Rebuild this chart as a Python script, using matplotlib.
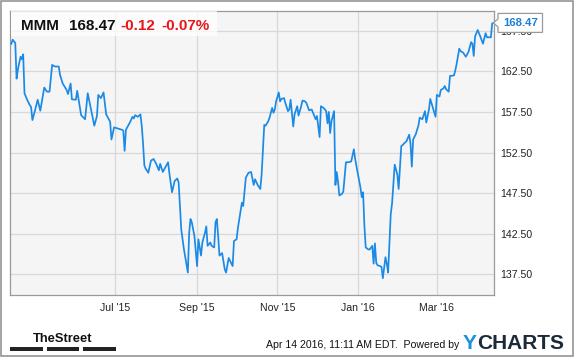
import matplotlib
matplotlib.use("Agg")
import matplotlib.pyplot as plt
from matplotlib.patches import Rectangle, Polygon
import pandas as pd

# MMM price over one year
dates = [
    "2015-04-13", "2015-04-14", "2015-04-16", "2015-04-17", "2015-04-18", "2015-04-20", "2015-04-21",
    "2015-04-22", "2015-04-23", "2015-04-25", "2015-04-27", "2015-04-28", "2015-04-29",
    "2015-05-01", "2015-05-03", "2015-05-05", "2015-05-08", "2015-05-10", "2015-05-12", "2015-05-14",
    "2015-05-16", "2015-05-19", "2015-05-20", "2015-05-22", "2015-05-25", "2015-05-26", "2015-05-28",
    "2015-05-29",
    "2015-06-01", "2015-06-02", "2015-06-05", "2015-06-08", "2015-06-10", "2015-06-13", "2015-06-15",
    "2015-06-17", "2015-06-18", "2015-06-20", "2015-06-22", "2015-06-24", "2015-06-27", "2015-06-28",
    "2015-06-30",
    "2015-07-02", "2015-07-06", "2015-07-07", "2015-07-08", "2015-07-09", "2015-07-12", "2015-07-14",
    "2015-07-15", "2015-07-16", "2015-07-18", "2015-07-20", "2015-07-21", "2015-07-22", "2015-07-23",
    "2015-07-24", "2015-07-26", "2015-07-28", "2015-07-30",
    "2015-08-01", "2015-08-03", "2015-08-04", "2015-08-06", "2015-08-08", "2015-08-10", "2015-08-11",
    "2015-08-13", "2015-08-15", "2015-08-17", "2015-08-18", "2015-08-19", "2015-08-20", "2015-08-22",
    "2015-08-25", "2015-08-26", "2015-08-27", "2015-08-28", "2015-08-30",
    "2015-09-01", "2015-09-02", "2015-09-04", "2015-09-05", "2015-09-07", "2015-09-08", "2015-09-09",
    "2015-09-11", "2015-09-12", "2015-09-14", "2015-09-15", "2015-09-16", "2015-09-17", "2015-09-18",
    "2015-09-20", "2015-09-22", "2015-09-23", "2015-09-25", "2015-09-28", "2015-09-29",
    "2015-10-01", "2015-10-02", "2015-10-05", "2015-10-06", "2015-10-08", "2015-10-10", "2015-10-12",
    "2015-10-14", "2015-10-15", "2015-10-17", "2015-10-19", "2015-10-20", "2015-10-22", "2015-10-23",
    "2015-10-25", "2015-10-26", "2015-10-28", "2015-10-29", "2015-10-30", "2015-10-31",
    "2015-11-02", "2015-11-03", "2015-11-04", "2015-11-06", "2015-11-07", "2015-11-09", "2015-11-10",
    "2015-11-11", "2015-11-13", "2015-11-14", "2015-11-16", "2015-11-17", "2015-11-19", "2015-11-20",
    "2015-11-22", "2015-11-23", "2015-11-25", "2015-11-27", "2015-11-28", "2015-11-30",
    "2015-12-01", "2015-12-03", "2015-12-04", "2015-12-06", "2015-12-08", "2015-12-09", "2015-12-10",
    "2015-12-11", "2015-12-12", "2015-12-14", "2015-12-15", "2015-12-16", "2015-12-17", "2015-12-18",
    "2015-12-20", "2015-12-21", "2015-12-23", "2015-12-25", "2015-12-27", "2015-12-29", "2015-12-30",
    "2016-01-01", "2016-01-03", "2016-01-04", "2016-01-05", "2016-01-06", "2016-01-07", "2016-01-09",
    "2016-01-10", "2016-01-12", "2016-01-13", "2016-01-14", "2016-01-15", "2016-01-16", "2016-01-18",
    "2016-01-19", "2016-01-20", "2016-01-22", "2016-01-23", "2016-01-24", "2016-01-26", "2016-01-27",
    "2016-01-29", "2016-01-31",
    "2016-02-01", "2016-02-03", "2016-02-04", "2016-02-05", "2016-02-07", "2016-02-09", "2016-02-10",
    "2016-02-11", "2016-02-12", "2016-02-14", "2016-02-15", "2016-02-16", "2016-02-17", "2016-02-19",
    "2016-02-20", "2016-02-21", "2016-02-22", "2016-02-24", "2016-02-25", "2016-02-27", "2016-02-29",
    "2016-03-01", "2016-03-03", "2016-03-04", "2016-03-06", "2016-03-07", "2016-03-08", "2016-03-10",
    "2016-03-11", "2016-03-12", "2016-03-14", "2016-03-15", "2016-03-16", "2016-03-18", "2016-03-19",
    "2016-03-21", "2016-03-23", "2016-03-25", "2016-03-27", "2016-03-28", "2016-03-29", "2016-03-30",
    "2016-04-01", "2016-04-03", "2016-04-05", "2016-04-07", "2016-04-08", "2016-04-11", "2016-04-12",
    "2016-04-13",
]
prices = [
    165.9, 166.4, 166.0, 161.6, 162.75, 164.3, 164.0, 164.6, 159.8, 159.0, 158.35, 158.1, 156.5,
    157.7, 159.0, 157.65, 160.5, 160.0, 160.0, 163.3, 163.1, 163.1, 162.05, 161.0, 160.2, 159.7,
    161.0, 159.05,
    159.0, 160.1, 157.1, 156.6, 159.8, 157.4, 155.8, 157.0, 159.6, 159.2, 159.9, 157.2, 156.3,
    154.1, 155.6,
    155.5, 155.3, 155.2, 152.7, 155.3, 156.2, 156.9, 156.7, 157.1, 156.9, 157.2, 155.8, 153.6,
    150.9, 150.5, 150.0, 151.5, 151.7,
    151.1, 150.3, 151.1, 150.1, 150.7, 151.3, 149.9, 147.6, 149.0, 149.3, 148.8, 145.9, 143.0,
    140.6, 137.7, 142.6, 144.3, 143.9, 142.2,
    138.5, 141.8, 139.8, 141.4, 142.6, 143.4, 141.0, 141.4, 141.0, 140.8, 143.9, 144.3, 142.2,
    139.8, 140.1, 138.1, 137.7, 139.5, 138.5, 141.6,
    141.8, 143.2, 146.3, 145.9, 149.4, 150.0, 150.1, 148.5, 149.2, 148.5, 148.0, 149.8, 155.9,
    155.8, 156.35, 156.8, 158.0, 157.4, 157.8, 158.8,
    159.9, 158.8, 159.1, 159.2, 158.6, 157.6, 157.8, 159.0, 155.7, 157.2, 158.2, 157.05, 158.2,
    158.9, 158.8, 158.6, 157.7, 157.8, 157.4, 156.6,
    157.0, 154.4, 158.2, 158.0, 157.6, 156.1, 157.5, 154.9, 156.35, 157.6, 148.5, 150.1, 148.9,
    147.2, 147.4, 147.7, 151.3, 151.3, 151.4, 152.9, 151.7,
    149.9, 148.2, 147.0, 147.6, 143.5, 140.8, 140.55, 140.55, 141.0, 138.8, 141.3, 138.9, 138.6,
    138.5, 138.4, 137.0, 139.6, 138.8, 137.7, 144.9, 146.2, 151.0, 149.8,
    148.0, 153.3, 153.4, 153.6, 153.9, 154.7, 153.6, 150.75, 154.1, 154.75, 155.3, 155.8, 156.8,
    156.6, 157.1, 157.6, 156.2, 157.8, 159.1, 158.0, 156.9,
    159.6, 159.4, 160.2, 160.4, 160.7, 160.3, 160.0, 161.95, 161.95, 162.0, 162.6, 163.4, 165.3,
    165.0, 164.8, 164.3, 164.9, 166.1, 165.9, 164.4, 166.8,
    167.6, 166.8, 165.9, 167.2, 166.7, 166.7, 168.4, 168.47,
]

tick_dates = ["2015-07-01", "2015-09-01", "2015-11-01", "2016-01-01", "2016-03-01"]
tick_labels = ["Jul '15", "Sep '15", "Nov '15", "Jan '16", "Mar '16"]
y_ticks = [137.5, 142.5, 147.5, 152.5, 157.5, 162.5, 167.5]

ticker = "MMM"
last_price = "168.47"
change = "-0.12"
change_pct = "-0.07%"
stamp = "Apr 14 2016, 11:11 AM EDT.  Powered by"

W, H = 575, 358
FONT = "Liberation Sans"
LINE_BLUE = "#1b8ae6"


def fx(x):
    return x / W


def fy(y):
    # pixel rows from the top -> figure fraction
    return 1 - y / H


fig = plt.figure(figsize=(W / 100, H / 100), dpi=100)
fig.patch.set_facecolor("white")

ax = fig.add_axes([fx(10), fy(294.5), fx(493.5 - 10), (294.5 - 10.5) / H])
ax.set_facecolor("#f5f5f5")

x = pd.to_datetime(dates)
ax.plot(x, prices, color=LINE_BLUE, lw=1.25, solid_joinstyle="round", zorder=3)

ax.set_xlim(pd.Timestamp("2015-04-12"), pd.Timestamp("2016-04-13"))
ax.set_ylim(135, 170)

ax.set_xticks(pd.to_datetime(tick_dates))
ax.set_xticklabels(tick_labels)
ax.set_yticks(y_ticks)
ax.set_yticklabels(["%.2f" % v for v in y_ticks])
ax.yaxis.tick_right()
ax.tick_params(axis="both", length=0, labelsize=7.6, colors="#222222")
ax.tick_params(axis="y", pad=5)
ax.tick_params(axis="x", pad=6)
for lab in ax.get_xticklabels() + ax.get_yticklabels():
    lab.set_fontfamily(FONT)

ax.grid(True, color="#d8d8d8", lw=0.9)
ax.set_axisbelow(True)
for sp in ax.spines.values():
    sp.set_color("#9a9a9a")
    sp.set_linewidth(0.9)

# header box with quote
fig.patches.append(Rectangle((fx(10.5), fy(36)), fx(217 - 10.5), (36 - 11) / H,
                             transform=fig.transFigure, facecolor="white", alpha=0.75,
                             edgecolor="none", zorder=5))
fig.text(fx(21), fy(29.5), ticker, fontsize=11, fontweight="bold", family=FONT, color="#111111", zorder=6)
fig.text(fx(68.5), fy(29.5), last_price, fontsize=11, fontweight="bold", family=FONT, color="#111111", zorder=6)
fig.text(fx(120.5), fy(29.5), change, fontsize=11, fontweight="bold", family=FONT, color="#e8161b", zorder=6)
fig.text(fx(161.5), fy(29.5), change_pct, fontsize=11, fontweight="bold", family=FONT, color="#e8161b", zorder=6)

# last value callout, placed at the last price
fig.canvas.draw()
y_top = H - ax.transData.transform((0, prices[-1]))[1]
box_pts = [(493.5, y_top), (498, y_top - 4), (498, y_top - 9.5), (542.5, y_top - 9.5),
           (542.5, y_top + 9.5), (498, y_top + 9.5), (498, y_top + 4)]
fig.patches.append(Polygon([(fx(px), fy(py)) for px, py in box_pts], closed=True,
                           transform=fig.transFigure, facecolor="white", edgecolor="#9a9a9a",
                           lw=0.9, zorder=7))
fig.text(fx(520.5), fy(y_top + 0.5), "%.2f" % prices[-1], fontsize=8.2, fontweight="bold",
         family=FONT, color="#1b7fd6", ha="center", va="center", zorder=8)

# footer: TheStreet logo
fig.text(fx(62.5), fy(341.5), "TheStreet", fontsize=9.3, fontweight="bold",
         family=FONT, color="#111111", ha="center", va="baseline")
for bx0, bx1 in [(10, 42.5), (46.5, 79), (83, 116)]:
    fig.patches.append(Rectangle((fx(bx0), fy(351)), fx(bx1 - bx0), 4 / H,
                                 transform=fig.transFigure, facecolor="#222222", edgecolor="none"))

fig.text(fx(459), fy(347.5), stamp, fontsize=7.6, family=FONT, color="#111111",
         ha="right", va="baseline")
fig.text(fx(463), fy(349), "Y", fontsize=15, fontweight="bold", family=FONT,
         color="#1a90e0", ha="left", va="baseline")
fig.text(fx(477.5), fy(349), "CHARTS", fontsize=15, fontweight="bold", family=FONT,
         color="#1c2a38", ha="left", va="baseline")

# outer frame
fig.patches.append(Rectangle((fx(1), fy(355.5)), fx(573 - 1), (355.5 - 1) / H,
                             transform=fig.transFigure, facecolor="none", edgecolor="#8c8c8c", lw=1.1))

fig.savefig("out.png", dpi=100)
